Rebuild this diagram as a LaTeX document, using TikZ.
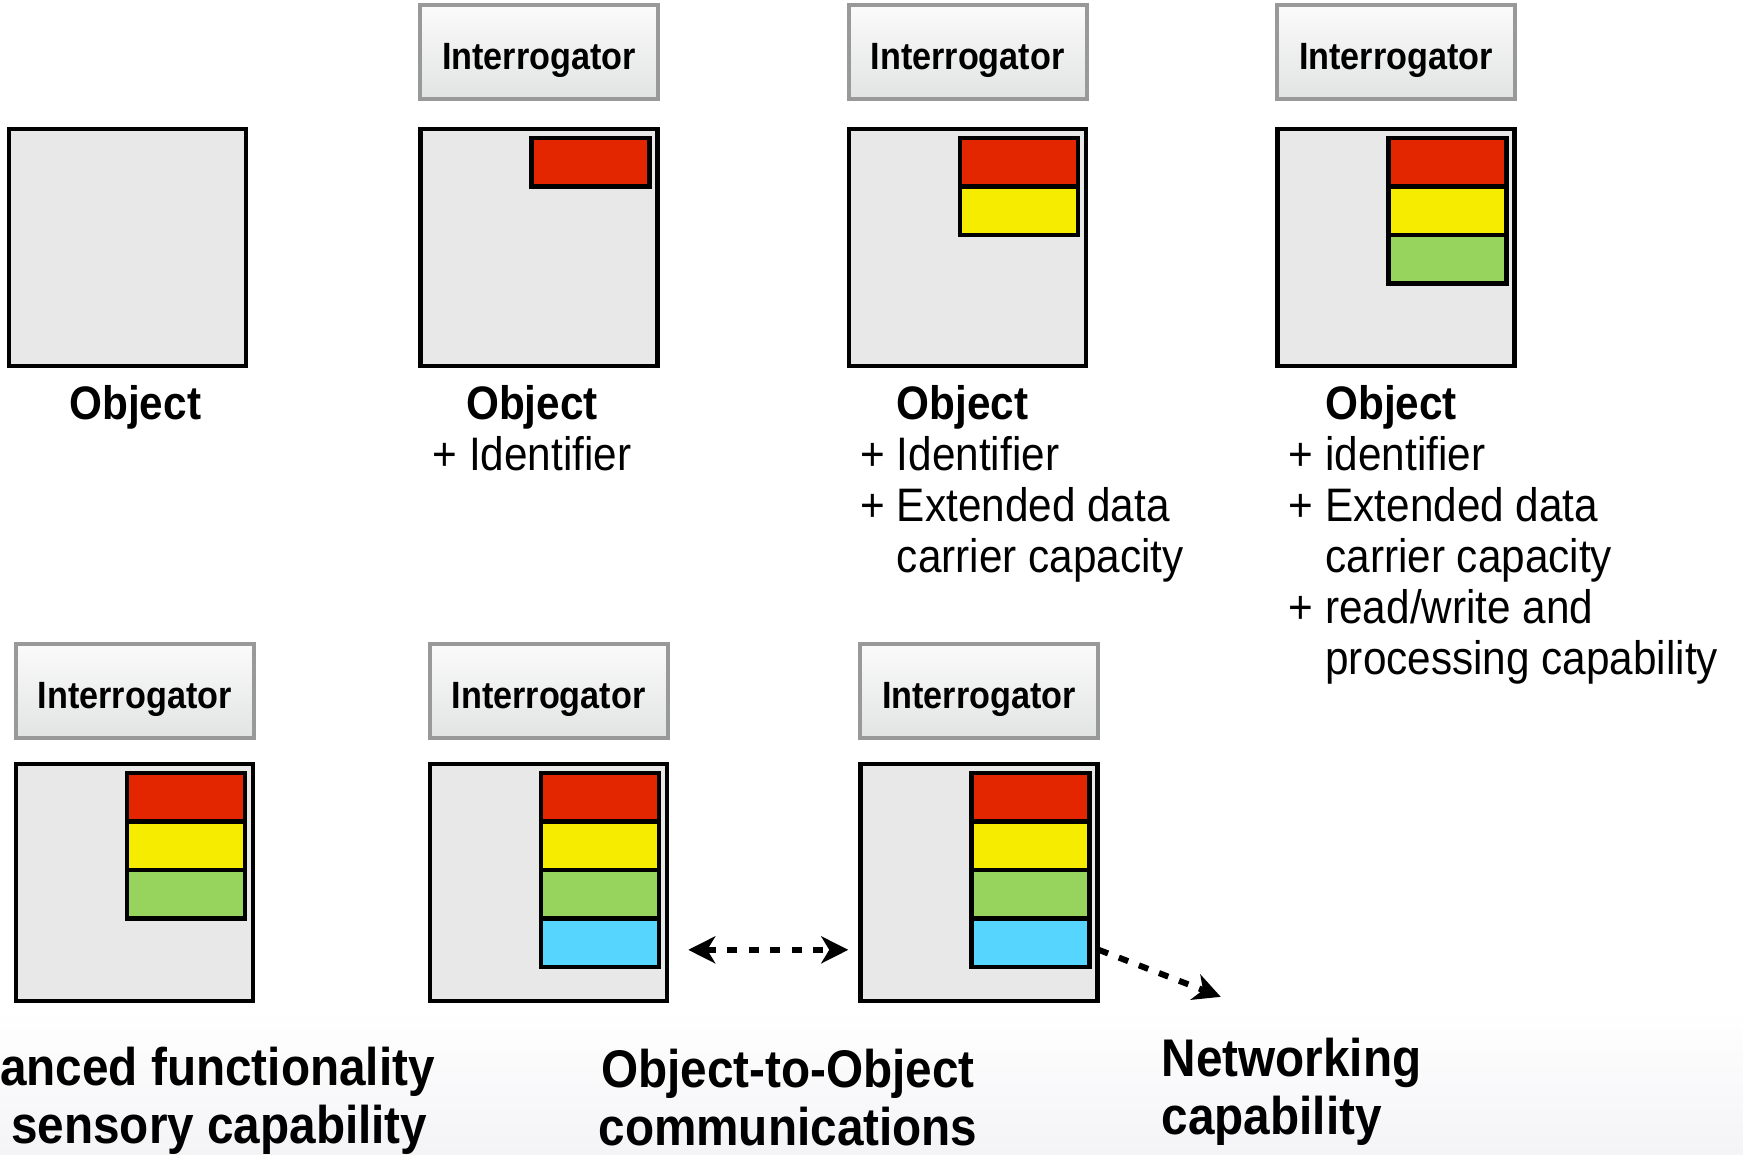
\documentclass[tikz,border=0pt]{standalone}
\usepackage{fontspec}
\setmainfont{Liberation Sans}[FakeStretch=0.9]
\usetikzlibrary{arrows.meta, positioning, calc}

\definecolor{tagred}{RGB}{227,38,0}
\definecolor{tagyellow}{RGB}{245,236,0}
\definecolor{taggreen}{RGB}{151,212,94}
\definecolor{tagcyan}{RGB}{86,213,254}
\definecolor{objgray}{RGB}{232,232,232}
\definecolor{rimgray}{RGB}{153,153,153}
\definecolor{fadetop}{RGB}{251,251,251}
\definecolor{fadebot}{RGB}{226,227,227}
\definecolor{floorgray}{RGB}{244,243,246}

\newcommand{\plusgap}{\phantom{+ }}

\begin{document}
\begin{tikzpicture}[x=1pt, y=-1pt,
        object/.style={rectangle, draw, line width=4.5pt, fill=objgray, minimum width=237pt, minimum height=237pt, inner sep=0pt},
        reader/.style={rectangle, draw=rimgray, line width=4pt, top color=fadetop, bottom color=fadebot, minimum width=238pt, minimum height=94pt, text height=35pt, text depth=0pt, font=\fontsize{38}{40}\selectfont\bfseries},
        tag/.style={rectangle, draw, line width=4.5pt, minimum width=118pt, minimum height=48.5pt, inner sep=0pt},
        caption/.style={inner sep=0pt, font=\fontsize{47}{51}\selectfont},
        bigcaption/.style={inner sep=0pt, font=\fontsize{53}{58}\selectfont\bfseries},
        linkline/.style={draw, line width=6pt, dash pattern=on 10pt off 11.5pt},
        bothtips/.style={arrows={Stealth[length=27pt, width=27pt, inset=8pt]-Stealth[length=27pt, width=27pt, inset=8pt]}},
        endtip/.style={arrows={-Stealth[length=27pt, width=27pt, inset=8pt]}}]

        \useasboundingbox (0,0) rectangle (1743,1155);
        \fill[top color=white, bottom color=floorgray] (0,1010) rectangle (1743,1155);

        % Objects
        \node [object] (obj1) at (127.3,247.3) {};
        \node [object] (obj2) at (539,247.3) {};
        \node [object] (obj3) at (967.5,247.3) {};
        \node [object] (obj4) at (1396,247.3) {};
        \node [object] (obj5) at (134.7,882.6) {};
        \node [object] (obj6) at (548.5,882.6) {};
        \node [object] (obj7) at (979,882.6) {};

        % Interrogators
        \node [reader, above=26pt of obj2] (reader2) {Interrogator};
        \node [reader, above=26pt of obj3] (reader3) {Interrogator};
        \node [reader, above=26pt of obj4] (reader4) {Interrogator};
        \node [reader, above=22pt of obj5] (reader5) {Interrogator};
        \node [reader, above=22pt of obj6] (reader6) {Interrogator};
        \node [reader, above=22pt of obj7] (reader7) {Interrogator};

        % Tag layers
        \node [tag, fill=tagred, anchor=north east] (red2) at ([xshift=-8pt, yshift=-9pt]obj2.north east) {};

        \node [tag, fill=tagred, anchor=north east] (red3) at ([xshift=-8pt, yshift=-9pt]obj3.north east) {};
        \node [tag, fill=tagyellow, below=-4.5pt of red3] (yellow3) {};

        \node [tag, fill=tagred, anchor=north east] (red4) at ([xshift=-8pt, yshift=-9pt]obj4.north east) {};
        \node [tag, fill=tagyellow, below=-4.5pt of red4] (yellow4) {};
        \node [tag, fill=taggreen, below=-4.5pt of yellow4] (green4) {};

        \node [tag, fill=tagred, anchor=north east] (red5) at ([xshift=-8pt, yshift=-9pt]obj5.north east) {};
        \node [tag, fill=tagyellow, below=-4.5pt of red5] (yellow5) {};
        \node [tag, fill=taggreen, below=-4.5pt of yellow5] (green5) {};

        \node [tag, fill=tagred, anchor=north east] (red6) at ([xshift=-8pt, yshift=-9pt]obj6.north east) {};
        \node [tag, fill=tagyellow, below=-4.5pt of red6] (yellow6) {};
        \node [tag, fill=taggreen, below=-4.5pt of yellow6] (green6) {};
        \node [tag, fill=tagcyan, below=-4.5pt of green6] (cyan6) {};

        \node [tag, fill=tagred, anchor=north east] (red7) at ([xshift=-8pt, yshift=-9pt]obj7.north east) {};
        \node [tag, fill=tagyellow, below=-4.5pt of red7] (yellow7) {};
        \node [tag, fill=taggreen, below=-4.5pt of yellow7] (green7) {};
        \node [tag, fill=tagcyan, below=-4.5pt of green7] (cyan7) {};

        % Captions
        \node [caption, anchor=north] (label1) at ([xshift=8pt, yshift=-17pt]obj1.south) {\textbf{Object}};
        \node [caption, anchor=north, align=center] (label2) at ([xshift=-7pt, yshift=-17pt]obj2.south) {\textbf{Object}\\+ Identifier};
        \node [caption, anchor=north west, align=left] (label3) at ([xshift=13.5pt, yshift=-17pt]obj3.south west)
            {\plusgap\textbf{Object}\\+ Identifier\\+ Extended data\\\plusgap carrier capacity};
        \node [caption, anchor=north west, align=left] (label4) at ([xshift=13.5pt, yshift=-17pt]obj4.south west)
            {\plusgap\textbf{Object}\\+ identifier\\+ Extended data\\\plusgap carrier capacity\\+ read/write and\\\plusgap processing capability};

        \node [bigcaption, anchor=north west, align=left] (sensing) at (0,1047) {anced functionality\\\hspace*{11pt}sensory capability};
        \node [bigcaption, anchor=north, align=center] (o2o) at (788,1049) {Object-to-Object\\communications};
        \node [bigcaption, anchor=north west, align=left] (network) at (1161.6,1038) {Networking\\capability};

        % Paths
        \coordinate (netend) at ($(obj7.east |- cyan7.east) + (121,54)$);
        \path [linkline, bothtips] ($(obj6.east |- cyan6.east) + (19,7)$) -- ($(obj7.west |- cyan6.east) + (-10,7)$);
        \path [linkline, endtip] ($(obj7.east |- cyan7.east) + (-1,7)$) -- (netend);
\end{tikzpicture}
\end{document}
